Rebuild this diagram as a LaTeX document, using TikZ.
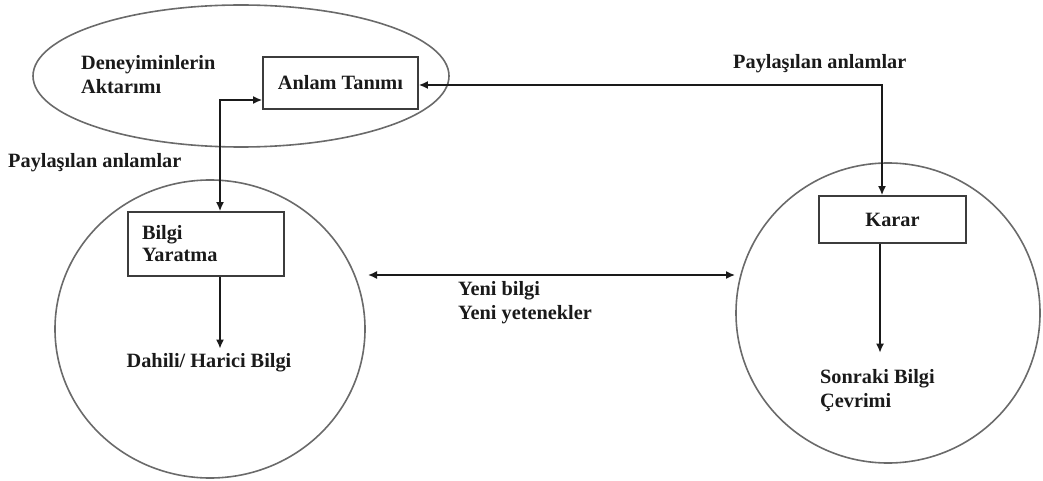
\documentclass[tikz,border=0pt]{standalone}
\usepackage{fontspec}
\setmainfont{Liberation Serif}
\usetikzlibrary{arrows.meta,shapes.geometric}
\definecolor{ink}{HTML}{1A1A1A}
\definecolor{rim}{HTML}{6A6A6A}
\begin{document}
\begin{tikzpicture}[x=1pt,y=-1pt,
  txt/.style={font=\fontsize{20.3}{24}\selectfont\bfseries, inner sep=0pt, align=left, text=ink},
  region/.style={draw=rim, line width=1.6pt, ellipse, inner sep=0pt},
  stepbox/.style={draw=ink!85, line width=1.8pt, rectangle, inner sep=0pt,
                  font=\fontsize{20.3}{24}\selectfont\bfseries, text=ink},
  link/.style={draw=ink, line width=1.5pt, -{Latex[length=9pt,width=8pt]}},
  twoway/.style={draw=ink, line width=1.5pt, {Latex[length=9pt,width=8pt]}-{Latex[length=9pt,width=8pt]}},
]
\useasboundingbox (0,0) rectangle (1043,481);

% outer regions
\node[region, minimum width=416, minimum height=142] (exp) at (241,76) {};
\node[region, minimum width=310, minimum height=298] (lc) at (210,329) {};
\node[region, minimum width=304, minimum height=300] (rc) at (888,313) {};

% process boxes
\node[stepbox, minimum width=155, minimum height=52] (anlam) at (340.5,83) {Anlam Tanımı};
\node[stepbox, minimum width=156, minimum height=64, text width=128, inner xsep=14, align=left,
      font=\fontsize{20.3}{22}\selectfont\bfseries] (bilgi) at (206,244) {Bilgi\\Yaratma};
\node[stepbox, minimum width=147, minimum height=47] (karar) at (892.5,219.5) {Karar};

% texts
\node[txt, anchor=west] (deney) at (81,75) {Deneyiminlerin\\Aktarımı};
\node[txt, anchor=west] (pay1) at (8,163) {Paylaşılan anlamlar};
\node[txt, anchor=west] (pay2) at (733,64) {Paylaşılan anlamlar};
\node[txt] (dahili) at (209,363) {Dahili/ Harici Bilgi};
\node[txt, anchor=west] (yeni) at (458,303) {Yeni bilgi\\Yeni yetenekler};
\node[txt, anchor=west] (sonraki) at (820,391) {Sonraki Bilgi\\Çevrimi};

% bends and free ends of connectors
\coordinate (b1) at (220,100);
\coordinate (b2) at (882,85);
\coordinate (ha) at (368,275);
\coordinate (hb) at (735,275);

% connectors
\draw[twoway] (anlam.west |- b1) -- (b1) -- (bilgi.north -| b1);
\draw[twoway] (anlam.east |- b2) -- (b2) -- (karar.north -| b2);
\draw[link] (bilgi.south -| b1) -- ([yshift=5]dahili.north -| b1);
\draw[link] (karar.south -| 880,0) -- ([yshift=17]sonraki.north -| 880,0);
\draw[twoway] (ha) -- (hb);
\end{tikzpicture}
\end{document}
